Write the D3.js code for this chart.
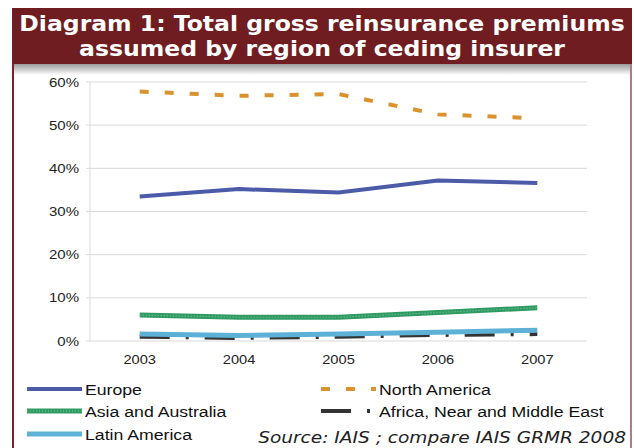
<!DOCTYPE html>
<meta charset="utf-8">
<script src="https://d3js.org/d3.v7.min.js"></script>
<style>
  body { margin: 0; background: #fff; }
  text { font-family: "Liberation Sans", Arial, sans-serif; }
</style>
<div id="chart"></div>
<script>
// data
var years = ["2003", "2004", "2005", "2006", "2007"];
var europe = [33.5, 35.2, 34.4, 37.2, 36.6];
var northAmerica = [57.8, 56.8, 57.2, 52.5, 51.6];
var asiaAustralia = [6.0, 5.5, 5.5, 6.6, 7.7];
var africaMiddleEast = [1.0, 0.7, 1.0, 1.4, 1.6];
var latinAmerica = [1.6, 1.3, 1.6, 2.0, 2.5];
var yTicks = [0, 10, 20, 30, 40, 50, 60];

var series = [
  {name: "Europe", values: europe, color: "#4b5ba8", width: 4, dash: null},
  {name: "North America", values: northAmerica, color: "#d9922e", width: 4, dash: "9,16"},
  {name: "Asia and Australia", values: asiaAustralia, color: "#2f9a62", width: 5, dash: null, dotted: true},
  {name: "Africa, Near and Middle East", values: africaMiddleEast, color: "#333333", width: 4, dash: "30,16,3,16"},
  {name: "Latin America", values: latinAmerica, color: "#5eb1d6", width: 5, dash: null}
];

var W = 634, H = 448;
var svg = d3.select("#chart").append("svg")
    .attr("width", W)
    .attr("height", H);

// the original picture is a bit stretched sideways, so text gets a horizontal scale
function place(sel, x, y, sx) {
  return sel.attr("transform", "translate(" + x + "," + y + ") scale(" + sx + ",1)");
}

var defs = svg.append("defs");
var grad = defs.append("linearGradient")
    .attr("id", "shadow").attr("x1", 0).attr("y1", 0).attr("x2", 0).attr("y2", 1);
grad.append("stop").attr("offset", "0%").attr("stop-color", "#9a9a9a");
grad.append("stop").attr("offset", "100%").attr("stop-color", "#ffffff");

// frame
svg.append("rect").attr("x", 14).attr("y", 64).attr("width", 616).attr("height", 11)
    .attr("fill", "url(#shadow)");
svg.append("line").attr("x1", 13).attr("x2", 13).attr("y1", 60).attr("y2", H)
    .attr("stroke", "#7a2226").attr("stroke-width", 2);
svg.append("line").attr("x1", 631).attr("x2", 631).attr("y1", 60).attr("y2", H)
    .attr("stroke", "#b57c80").attr("stroke-width", 2);

// title band
svg.append("rect").attr("x", 12).attr("y", 8).attr("width", 620).attr("height", 56)
    .attr("fill", "#6f1d21");
var titleLines = ["Diagram 1: Total gross reinsurance premiums", "assumed by region of ceding insurer"];
titleLines.forEach(function(t, i) {
  place(svg.append("text"), 322, 31 + i * 25, 1.07)
      .attr("text-anchor", "middle")
      .attr("fill", "#fff")
      .style("font-family", "'DejaVu Sans', Verdana, sans-serif")
      .style("font-weight", "bold")
      .style("font-size", "22px")
      .text(t);
});

// scales
var x = d3.scaleBand().domain(years).range([90, 587]);
var y = d3.scaleLinear().domain([0, 60]).range([341, 82]);

// grid
svg.append("g").selectAll("line")
  .data(yTicks)
  .join("line")
    .attr("x1", 86).attr("x2", 587)
    .attr("y1", function(d) { return y(d); })
    .attr("y2", function(d) { return y(d); })
    .attr("stroke", "#d9d9d9").attr("stroke-width", 1);

svg.append("line").attr("x1", 90).attr("x2", 90).attr("y1", y(60)).attr("y2", y(0))
    .attr("stroke", "#d9d9d9");

yTicks.forEach(function(d) {
  place(svg.append("text"), 79, y(d) + 4.5, 1.25)
      .attr("text-anchor", "end")
      .attr("fill", "#222")
      .style("font-size", "12px")
      .text(d + "%");
});

years.forEach(function(d) {
  place(svg.append("text"), x(d) + x.bandwidth() / 2, 364, 1.22)
      .attr("text-anchor", "middle")
      .attr("fill", "#222")
      .style("font-size", "12px")
      .text(d);
});

// lines
var line = d3.line()
    .x(function(d, i) { return x(years[i]) + x.bandwidth() / 2; })
    .y(function(d) { return y(d); });

var drawOrder = [1, 0, 2, 3, 4];
drawOrder.forEach(function(k) {
  var s = series[k];
  svg.append("path")
      .datum(s.values)
      .attr("fill", "none")
      .attr("stroke", s.color)
      .attr("stroke-width", s.width)
      .attr("stroke-dasharray", s.dash)
      .attr("d", line);
  if (s.dotted) {
    svg.append("path")
        .datum(s.values)
        .attr("fill", "none")
        .attr("stroke", "#7cc79c")
        .attr("stroke-width", 1.2)
        .attr("stroke-dasharray", "1,2")
        .attr("d", line);
  }
});

// legend
var legendPos = [
  {x: 27, y: 389}, {x: 321, y: 389},
  {x: 27, y: 411}, {x: 321, y: 411},
  {x: 27, y: 434}
];
series.forEach(function(s, i) {
  var p = legendPos[i];
  var g = svg.append("g");
  g.append("line")
      .attr("x1", p.x).attr("x2", p.x + 55)
      .attr("y1", p.y).attr("y2", p.y)
      .attr("stroke", s.color)
      .attr("stroke-width", s.width)
      .attr("stroke-dasharray", s.dash);
  if (s.dotted) {
    g.append("line")
        .attr("x1", p.x).attr("x2", p.x + 55)
        .attr("y1", p.y).attr("y2", p.y)
        .attr("stroke", "#7cc79c")
        .attr("stroke-width", 1.2)
        .attr("stroke-dasharray", "1,2");
  }
  place(g.append("text"), p.x + 58, p.y + 6, 1.14)
      .attr("fill", "#111")
      .style("font-size", "15.5px")
      .text(s.name);
});

place(svg.append("text"), 626, 443, 1.16)
    .attr("text-anchor", "end")
    .attr("fill", "#222")
    .style("font-family", "'DejaVu Sans', Verdana, sans-serif")
    .style("font-style", "italic")
    .style("font-size", "16px")
    .text("Source: IAIS ; compare IAIS GRMR 2008");
</script>
